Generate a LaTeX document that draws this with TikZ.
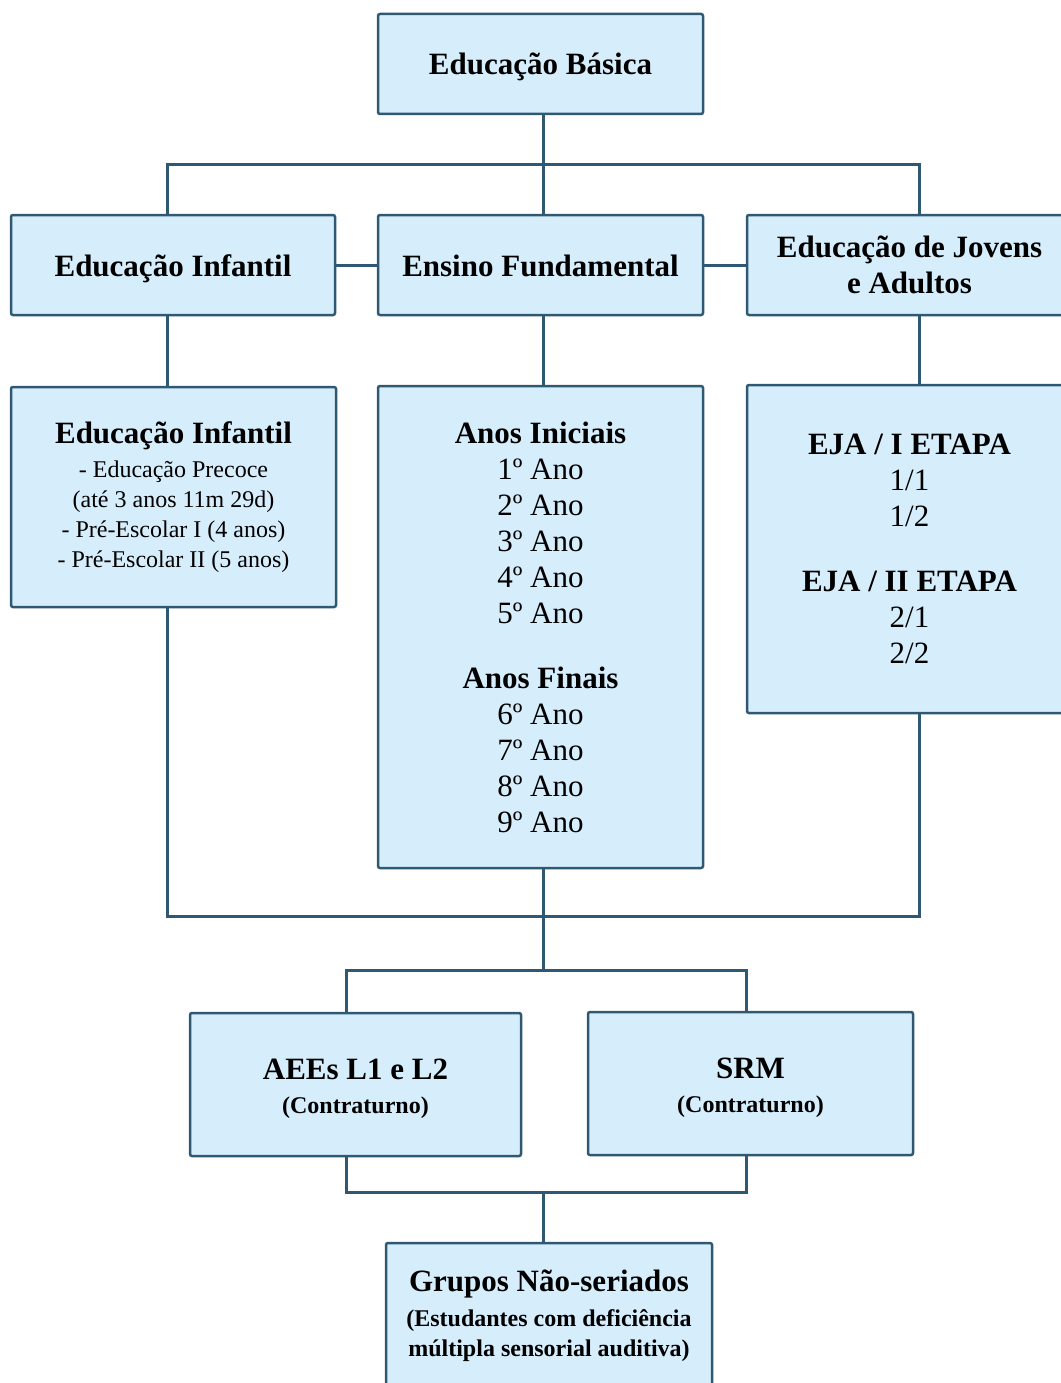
\documentclass[tikz,border=0pt]{standalone}
\usepackage{fontspec}
\setmainfont{Liberation Serif}
\definecolor{boxfill}{RGB}{214,238,252}
\definecolor{boxline}{RGB}{47,88,114}
\newcommand\boxhead{\fontsize{31}{36}\selectfont\bfseries}
\newcommand\boxbody{\fontsize{31}{36}\selectfont}
\newcommand\boxsmall{\fontsize{24}{30}\selectfont}
\begin{document}
\begin{tikzpicture}[x=1pt,y=-1pt,
	box/.style={draw=boxline, fill=boxfill, line width=2.5pt, rounded corners=2pt, align=center, inner sep=0pt},
	oneline/.style={text height=26pt, text depth=4pt},
	link/.style={draw=boxline, line width=3pt}]
	\useasboundingbox (0,0) rectangle (1060,1383);

	% boxes
	\node [box, oneline, minimum width=325, minimum height=100, font=\boxhead] (basica) at (540.5,64) {Educação Básica};
	\node [box, oneline, minimum width=324, minimum height=100, font=\boxhead] (infantil) at (173,265) {Educação Infantil};
	\node [box, oneline, minimum width=325, minimum height=100, font=\boxhead] (fundamental) at (540.5,265) {Ensino Fundamental};
	\node [box, minimum width=325, minimum height=100, font=\boxhead] (eja) at (909.5,265) {Educação de Jovens\\ e Adultos};
	\node [box, minimum width=325, minimum height=220, font=\boxsmall] (infantilDet) at (173.5,497) {{\boxhead Educação Infantil}\\[4pt] - Educação Precoce\\ (até 3 anos 11m 29d)\\ - Pré-Escolar I (4 anos)\\ - Pré-Escolar II (5 anos)};
	\node [box, minimum width=325, minimum height=482, font=\boxbody] (anos) at (540.5,627) {{\bfseries Anos Iniciais}\\ 1º Ano\\ 2º Ano\\ 3º Ano\\ 4º Ano\\ 5º Ano\\[29pt] {\bfseries Anos Finais}\\ 6º Ano\\ 7º Ano\\ 8º Ano\\ 9º Ano};
	\node [box, minimum width=325, minimum height=328, font=\boxbody] (etapas) at (909.5,549) {{\bfseries EJA / I ETAPA}\\ 1/1\\ 1/2\\[29pt] {\bfseries EJA / II ETAPA}\\ 2/1\\ 2/2};
	\node [box, minimum width=331, minimum height=143, font=\boxhead] (aee) at (355.5,1084.5) {\rule{0pt}{30pt}AEEs L1 e L2\\[-2pt] {\boxsmall\bfseries (Contraturno)}};
	\node [box, minimum width=325, minimum height=143, font=\boxhead] (srm) at (750.5,1083.5) {\rule{0pt}{30pt}SRM\\[-2pt] {\boxsmall\bfseries (Contraturno)}};
	\node [box, minimum width=326, minimum height=145, font=\boxsmall\bfseries] (grupos) at (549,1315.5) {{\boxhead Grupos Não-seriados}\\[5pt] (Estudantes com deficiência\\ múltipla sensorial auditiva)};

	% junction points
	\coordinate (topL) at (167,165);
	\coordinate (topM) at (543,165);
	\coordinate (topR) at (919,165);
	\coordinate (botL) at (167,916);
	\coordinate (botM) at (543,916);
	\coordinate (botR) at (919,916);
	\coordinate (forkA) at (346,970);
	\coordinate (forkS) at (746,970);
	\coordinate (joinA) at (346,1192);
	\coordinate (joinS) at (746,1192);

	% connectors
	\draw [link] (topM |- basica.south) -- (topM) -- (topM |- fundamental.north);
	\draw [link] (topL |- infantil.north) -- (topL) -- (topR) -- (topR |- eja.north);
	\draw [link] (infantil.east) -- (fundamental.west);
	\draw [link] (fundamental.east) -- (eja.west);
	\draw [link] (topL |- infantil.south) -- (topL |- infantilDet.north);
	\draw [link] (topM |- fundamental.south) -- (topM |- anos.north);
	\draw [link] (topR |- eja.south) -- (topR |- etapas.north);
	\draw [link] (botL |- infantilDet.south) -- (botL) -- (botR) -- (botR |- etapas.south);
	\draw [link] (botM |- anos.south) -- (botM) -- (botM |- forkA);
	\draw [link] (forkA |- aee.north) -- (forkA) -- (forkS) -- (forkS |- srm.north);
	\draw [link] (joinA |- aee.south) -- (joinA) -- (joinS) -- (joinS |- srm.south);
	\draw [link] (joinA -| botM) -- (botM |- grupos.north);
\end{tikzpicture}
\end{document}
